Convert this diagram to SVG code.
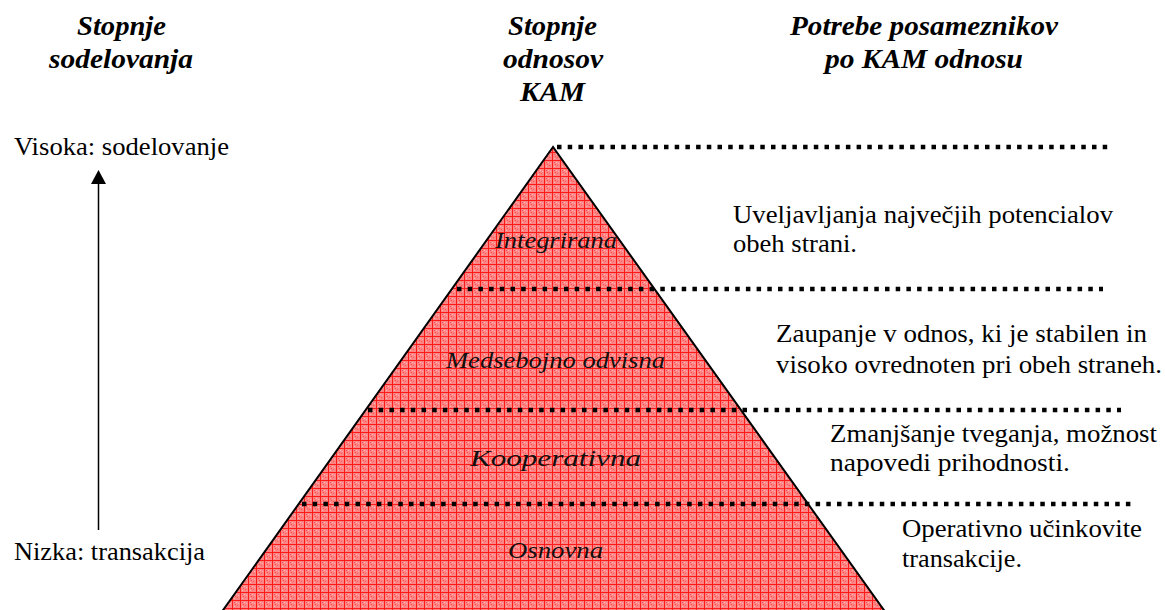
<svg xmlns="http://www.w3.org/2000/svg" width="1165" height="610" viewBox="0 0 1165 610">
  <defs>
    <!-- red cross-hatch fill used for the pyramid -->
    <pattern id="hatch" width="8" height="8" patternUnits="userSpaceOnUse">
      <rect width="8" height="8" fill="#ff8585"/>
      <rect x="2" y="2" width="1" height="1" fill="#ff5555"/>
      <rect x="4" y="2" width="1" height="1" fill="#ffb8b8"/>
      <rect x="3" y="4" width="1" height="1" fill="#ff5555"/>
      <rect x="5" y="5" width="1" height="1" fill="#ff5555"/>
      <rect x="2" y="6" width="1" height="1" fill="#ffb8b8"/>
      <rect x="6" y="3" width="1" height="1" fill="#ffb8b8"/>
      <path d="M0 0.5H8M0.5 0V8" stroke="#ff1a1a" stroke-width="1"/>
    </pattern>
  </defs>
  <style>
    .head { font-weight: bold; font-style: italic; font-size: 28px; }
    .body { font-size: 26px; }
    .level { font-style: italic; font-size: 24px; fill: #111; }
    .dots { fill: none; stroke: #000; stroke-width: 4.5; stroke-dasharray: 4.5 6.2; }
    .axis { stroke: #000; stroke-width: 1.5; fill: none; }
  </style>
  <rect width="1165" height="610" fill="#fff"/>

  <g font-family="'Liberation Serif', 'Times New Roman', serif">
  <!-- column headings -->
  <g id="heading-left">
    <text class="head" x="77" y="35" textLength="89" lengthAdjust="spacingAndGlyphs">Stopnje</text>
    <text class="head" x="49" y="68" textLength="144" lengthAdjust="spacingAndGlyphs">sodelovanja</text>
  </g>
  <g id="heading-middle">
    <text class="head" x="508" y="35" textLength="89" lengthAdjust="spacingAndGlyphs">Stopnje</text>
    <text class="head" x="503" y="68" textLength="100" lengthAdjust="spacingAndGlyphs">odnosov</text>
    <text class="head" x="520" y="101" textLength="65" lengthAdjust="spacingAndGlyphs">KAM</text>
  </g>
  <g id="heading-right">
    <text class="head" x="790" y="35" textLength="268" lengthAdjust="spacingAndGlyphs">Potrebe posameznikov</text>
    <text class="head" x="825" y="68" textLength="198" lengthAdjust="spacingAndGlyphs">po KAM odnosu</text>
  </g>

  <!-- cooperation axis -->
  <g id="axis">
    <text class="body" x="14" y="155" textLength="215" lengthAdjust="spacingAndGlyphs">Visoka: sodelovanje</text>
    <line class="axis" x1="98.5" y1="530" x2="98.5" y2="180"/>
    <polygon points="98.5,170 91,184 106,184" fill="#000"/>
    <text class="body" x="14" y="560" textLength="191" lengthAdjust="spacingAndGlyphs">Nizka: transakcija</text>
  </g>

  <!-- pyramid of relationship stages -->
  <g id="pyramid">
    <polygon points="553,147 221,613 886,613" fill="url(#hatch)" stroke="#000" stroke-width="2"/>
  </g>
  <g id="level-integrirana">
    <text class="level" x="495" y="248" textLength="122" lengthAdjust="spacingAndGlyphs">Integrirana</text>
  </g>
  <g id="level-medsebojno">
    <text class="level" x="446" y="368" textLength="219" lengthAdjust="spacingAndGlyphs">Medsebojno odvisna</text>
  </g>
  <g id="level-kooperativna">
    <text class="level" x="470" y="466" textLength="171" lengthAdjust="spacingAndGlyphs">Kooperativna</text>
  </g>
  <g id="level-osnovna">
    <text class="level" x="508" y="558" textLength="95" lengthAdjust="spacingAndGlyphs">Osnovna</text>
  </g>

  <!-- dotted separators between levels -->
  <g id="separators">
    <line class="dots" x1="557" y1="147" x2="1108" y2="147"/>
    <line class="dots" x1="457" y1="289" x2="1103" y2="289"/>
    <line class="dots" x1="368" y1="410" x2="1121" y2="410"/>
    <line class="dots" x1="302" y1="504" x2="1134" y2="504"/>
  </g>

  <!-- needs per level -->
  <g id="need-integrirana">
    <text class="body" x="733" y="223" textLength="380" lengthAdjust="spacingAndGlyphs">Uveljavljanja največjih potencialov</text>
    <text class="body" x="733" y="252" textLength="124" lengthAdjust="spacingAndGlyphs">obeh strani.</text>
  </g>
  <g id="need-medsebojno">
    <text class="body" x="776" y="342" textLength="371" lengthAdjust="spacingAndGlyphs">Zaupanje v odnos, ki je stabilen in</text>
    <text class="body" x="776" y="373" textLength="386" lengthAdjust="spacingAndGlyphs">visoko ovrednoten pri obeh straneh.</text>
  </g>
  <g id="need-kooperativna">
    <text class="body" x="830" y="442" textLength="327" lengthAdjust="spacingAndGlyphs">Zmanjšanje tveganja, možnost</text>
    <text class="body" x="830" y="471" textLength="240" lengthAdjust="spacingAndGlyphs">napovedi prihodnosti.</text>
  </g>
  <g id="need-osnovna">
    <text class="body" x="902" y="537" textLength="240" lengthAdjust="spacingAndGlyphs">Operativno učinkovite</text>
    <text class="body" x="902" y="567" textLength="120" lengthAdjust="spacingAndGlyphs">transakcije.</text>
  </g>
  </g>
</svg>
